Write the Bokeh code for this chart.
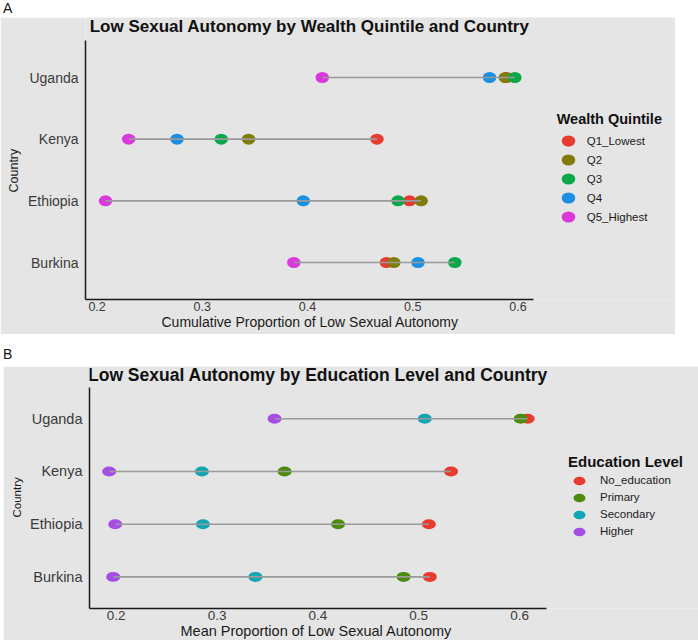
import numpy as np
from bokeh.plotting import figure
from bokeh.models import (Range1d, FixedTicker, Legend, LegendItem, Label,
                          ColumnDataSource, Div, Spacer, Title)
from bokeh.layouts import column, row
from bokeh.embed import file_html
from bokeh.resources import INLINE

# ---------------- data ----------------
countries = ["Burkina", "Ethiopia", "Kenya", "Uganda"]

wealth_labels = ["Q1_Lowest", "Q2", "Q3", "Q4", "Q5_Highest"]
wealth_q1 = [0.475, 0.497, 0.466, 0.589]
wealth_q2 = [0.482, 0.508, 0.344, 0.588]
wealth_q3 = [0.540, 0.486, 0.318, 0.597]
wealth_q4 = [0.505, 0.396, 0.276, 0.573]
wealth_q5 = [0.387, 0.208, 0.230, 0.414]

edu_labels = ["No_education", "Primary", "Secondary", "Higher"]
edu_none = [0.511, 0.510, 0.532, 0.608]
edu_primary = [0.485, 0.420, 0.367, 0.601]
edu_secondary = [0.338, 0.286, 0.285, 0.506]
edu_higher = [0.197, 0.199, 0.193, 0.357]

x_ticks = [0.2, 0.3, 0.4, 0.5, 0.6]

wealth_colors = ["#E63B2E", "#807C0A", "#0BA84A", "#1A8FE3", "#DB38DB"]
edu_colors = ["#E63B2E", "#4C8C0C", "#12A5B4", "#A64DE6"]

FONT = "Liberation Sans"
BG = "#E5E5E5"

# country positions on the y axis (1 = bottom row), as a categorical axis
y_pos = list(range(1, len(countries) + 1))
Y_LO, Y_HI = 0.4, len(countries) + 0.6


def panel(title, xlabel, labels, series, colors, legend_title,
          width, height, borders, xr, axis_end, y_top, pt, f, leg):
    bl, br, bt, bb = borders
    p = figure(width=width, height=height, title=None,
               x_range=Range1d(*xr), y_range=Range1d(Y_LO, y_top),
               toolbar_location=None, output_backend="svg",
               min_border_left=bl, min_border_right=br,
               min_border_top=bt, min_border_bottom=bb,
               background_fill_color=BG, border_fill_color=BG,
               outline_line_color=None)
    p.grid.visible = False

    rends = []
    for lab, vals, col in zip(labels, series, colors):
        src = ColumnDataSource(dict(x=vals, y=y_pos))
        r = p.ellipse(x="x", y="y", width=pt[0], height=pt[1],
                      width_units="screen", height_units="screen",
                      fill_color=col, line_color=None, source=src)
        rends.append(r)
    arr = np.array(series)
    p.segment(x0=arr.min(axis=0), y0=y_pos, x1=arr.max(axis=0), y1=y_pos,
              line_color="#9A9A9A", line_width=1.6)

    xa = p.xaxis[0]
    ya = p.yaxis[0]
    xa.ticker = FixedTicker(ticks=x_ticks)
    xa.bounds = (xr[0], axis_end)
    ya.ticker = FixedTicker(ticks=y_pos)
    ya.major_label_overrides = {y: c for y, c in zip(y_pos, countries)}
    ya.bounds = (Y_LO, Y_HI)
    for ax in (xa, ya):
        ax.axis_line_color = "#1a1a1a"
        ax.axis_line_width = 1.5
        ax.major_tick_line_color = None
        ax.minor_tick_line_color = None
        ax.major_tick_out = 0
        ax.major_tick_in = 0
        ax.minor_tick_out = 0
        ax.minor_tick_in = 0
        ax.major_label_text_font = FONT
        ax.major_label_text_color = "#3a3a3a"
    xa.major_label_text_font_size = f["xtick"]
    ya.major_label_text_font_size = f["ytick"]
    xa.major_label_standoff = 2
    ya.major_label_standoff = 7

    # x-axis title, centred under the bounded axis line
    p.add_layout(Title(text=xlabel, align="left", offset=f["xoff"],
                       vertical_align="top",
                       text_font=FONT, text_font_size=f["xlab"],
                       text_font_style="normal", text_color="#1a1a1a",
                       standoff=0), "below")
    # y-axis title, centred beside the bounded axis line
    p.add_layout(Title(text="Country", align="left", offset=f["yoff"],
                       text_font=FONT, text_font_size=f["ylab"],
                       text_font_style="normal", text_color="#1a1a1a",
                       standoff=f["ystand"]), "left")

    # chart title
    p.add_layout(Label(x=(xr[0] + axis_end) / 2, y=f["ty"], text=title,
                       text_align="center", text_baseline="middle",
                       text_font=FONT, text_font_size=f["title"],
                       text_font_style="bold", text_color="#111111"))

    items = [LegendItem(label=l, renderers=[r]) for l, r in zip(labels, rends)]
    lg = Legend(items=items, location=leg["loc"], title=legend_title,
                title_text_font=FONT, title_text_font_style="bold",
                title_text_font_size=f["ltitle"], title_text_color="#111111",
                title_standoff=leg["tstand"],
                label_text_font=FONT, label_text_font_size=f["llab"],
                label_text_color="#1a1a1a", label_height=8,
                glyph_width=22, glyph_height=leg["gh"], spacing=leg["sp"],
                label_standoff=leg["ls"], padding=0, margin=0,
                border_line_color=None, background_fill_alpha=0)
    p.add_layout(lg)
    return p


def letter(text, h, lh):
    return Div(text=text, width=698, height=h, margin=0,
               styles={"font-family": FONT, "font-size": "14px",
                       "line-height": lh, "padding-left": "3px",
                       "color": "#111111", "background-color": "white"})


pA = panel("Low Sexual Autonomy by Wealth Quintile and Country",
           "Cumulative Proportion of Low Sexual Autonomy",
           wealth_labels, [wealth_q1, wealth_q2, wealth_q3, wealth_q4, wealth_q5],
           wealth_colors, "Wealth Quintile",
           675, 317, (84, 0, 0, 35), (0.189, 0.7497), 0.615, 4.973, (13.5, 11),
           dict(title="17px", xlab="14px", xtick="12.5px", ytick="14px",
                ylab="12.5px", ltitle="14.5px", llab="11.5px",
                ty=4.827, xoff=76, yoff=107, ystand=8),
           dict(loc=(471.7, 73.7), tstand=5, gh=17, sp=2, ls=8))

pB = panel("Low Sexual Autonomy by Education Level and Country",
           "Mean Proportion of Low Sexual Autonomy",
           edu_labels, [edu_none, edu_primary, edu_secondary, edu_higher],
           edu_colors, "Education Level",
           695, 274, (86, 0, 0, 32), (0.1735, 0.7774), 0.6266, 4.992, (14, 10),
           dict(title="17.5px", xlab="14.5px", xtick="13.5px", ytick="14.5px",
                ylab="11.5px", ltitle="15px", llab="11.5px",
                ty=4.835, xoff=91, yoff=91, ystand=9),
           dict(loc=(479, 69.5), tstand=3, gh=15, sp=2, ls=10))

layout = column(letter("A", 17, "17px"), pA,
                letter("B", 32, "41px"),
                row(Spacer(width=3, height=274), pB))

open("out.html", "w").write(file_html(layout, INLINE))
